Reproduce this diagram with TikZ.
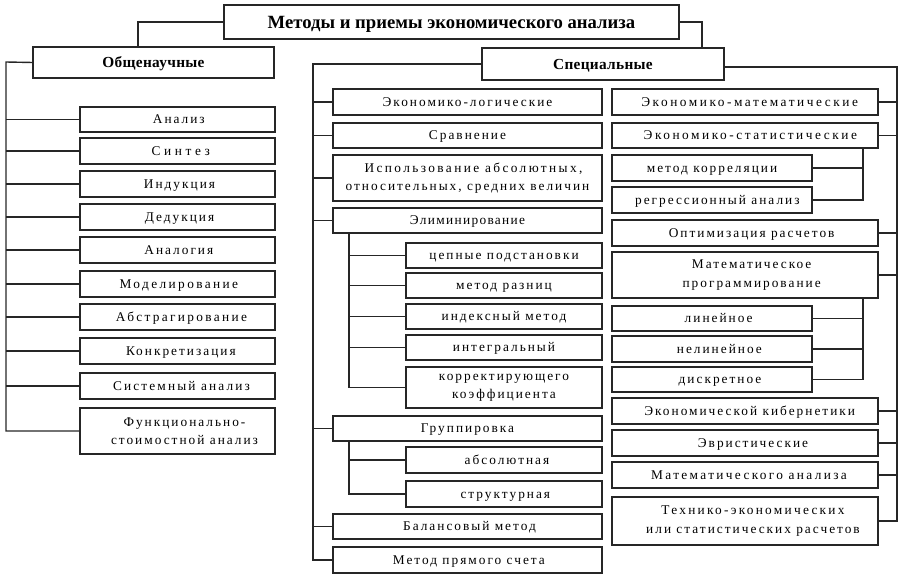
\documentclass[tikz,border=0pt]{standalone}
\usepackage{fontspec}
\setmainfont{Liberation Serif}[LetterSpace=15]
\newfontfamily\hdfont{Liberation Serif}[LetterSpace=2]
\newfontfamily\ttlfont{Liberation Serif}[LetterSpace=0]
\newcommand\sh[1]{\hspace*{#1pt}}
\newcommand\ls[1]{\addfontfeature{LetterSpace=#1}}
\begin{document}
\tikzset{
  box/.style={draw=black!85, line width=1.05pt, inner sep=0pt, outer sep=0pt,
    align=center, fill=white, font=\fontsize{10pt}{13.7pt}\selectfont},
  onebox/.style={box, text height=6.6pt, text depth=0pt},
  hdbox/.style={box, text height=7.6pt, text depth=0pt,
    font=\hdfont\bfseries\fontsize{11.5pt}{13pt}\selectfont},
  ttlbox/.style={box, text height=9.2pt, text depth=0pt,
    font=\ttlfont\bfseries\fontsize{14pt}{16pt}\selectfont},
  conn/.style={draw=black!85, line width=1.05pt},
}
\newcommand\mkbox[7][onebox]{%
  \node[#1, anchor=north west, minimum width={(#5-#3)*0.75pt},
    minimum height={(#6-#4)*0.75pt}] (#2) at (#3,#4) {#7};}
\begin{tikzpicture}[x=0.75pt,y=-0.75pt]
\useasboundingbox (0,0) rectangle (903,579);
% headers
\mkbox[ttlbox]{title}{224}{5}{679}{39}{Методы и приемы экономического анализа}
\mkbox[hdbox]{obsh}{33}{47}{274}{78}{Общенаучные}
\mkbox[hdbox]{spec}{482}{48}{724}{80}{Специальные}
% left column
\mkbox{a1}{80}{107}{275}{132}{\sh{2}Анализ}
\mkbox{a2}{80}{138}{275}{164}{\ls{27}\sh{5}Синтез}
\mkbox{a3}{80}{171}{275}{197}{\sh{3}Индукция}
\mkbox{a4}{80}{204}{275}{230}{\sh{3}Дедукция}
\mkbox{a5}{80}{237}{275}{263}{\sh{2}Аналогия}
\mkbox{a6}{80}{271}{275}{297}{\ls{18}\sh{2}Моделирование}
\mkbox{a7}{80}{304}{275}{330}{\ls{17.5}\sh{6}Абстрагирование}
\mkbox{a8}{80}{338}{275}{364}{\sh{5}Конкретизация}
\mkbox{a9}{80}{373}{275}{399}{\ls{16}\sh{6}Системный анализ}
\mkbox[box]{a10}{80}{408}{275}{454}{\sh{10.5}Функционально-\\\sh{10.5}стоимостной анализ}
% middle column
\mkbox{m1}{333}{89}{602}{115}{Экономико-логические}
\mkbox{m2}{333}{123}{602}{148}{Сравнение}
\mkbox[box]{m3}{333}{155}{602}{201}{\ls{18}\sh{9}Использование абсолютных,\\относительных, средних величин}
\mkbox{m4}{333}{208}{602}{233}{\ls{10}Элиминирование}
\mkbox{e1}{406}{243}{602}{268}{цепные подстановки}
\mkbox{e2}{406}{273}{602}{298}{метод разниц}
\mkbox{e3}{406}{304}{602}{329}{индексный метод}
\mkbox{e4}{406}{335}{602}{360}{интегральный}
\mkbox[box]{e5}{406}{367}{602}{408}{корректирующего\\коэффициента}
\mkbox{m5}{333}{416}{602}{441}{Группировка}
\mkbox{g1}{406}{447}{602}{473}{\sh{4.5}абсолютная}
\mkbox{g2}{406}{481}{602}{507}{\sh{2}структурная}
\mkbox{m6}{333}{514}{602}{539}{\sh{3}Балансовый метод}
\mkbox{m7}{333}{547}{602}{573}{\sh{2}Метод прямого счета}
% right column
\mkbox{r1}{612}{89}{878}{115}{\ls{19}\sh{7}Экономико-математические}
\mkbox{r2}{612}{123}{878}{148}{\ls{19}\sh{8}Экономико-статистические}
\mkbox{s1}{612}{155}{812}{181}{метод корреляции}
\mkbox{s2}{612}{187}{812}{213}{\sh{8}регрессионный анализ}
\mkbox{r3}{612}{220}{878}{246}{\sh{10}Оптимизация расчетов}
\mkbox[box]{r4}{612}{252}{878}{298}{\sh{10}Математическое\\\sh{10}программирование}
\mkbox{p1}{612}{306}{812}{331}{\sh{10}линейное}
\mkbox{p2}{612}{336}{812}{362}{\sh{11}нелинейное}
\mkbox{p3}{612}{367}{812}{392}{\sh{12}дискретное}
\mkbox{r5}{612}{398}{878}{424}{\sh{7}Экономической кибернетики}
\mkbox{r6}{612}{430}{878}{456}{\sh{12}Эвристические}
\mkbox{r7}{612}{462}{878}{488}{\ls{17.5}\sh{6}Математического анализа}
\mkbox[box]{r8}{612}{497}{878}{545}{\ls{17}\sh{12}Технико-экономических\\\sh{12}или статистических расчетов}
% title connectors
\coordinate (tL) at (138,47);
\coordinate (tR) at (702,48);
\draw[conn] (title.west) -| (tL);
\draw[conn] (title.east) -| (tR);
% left bus
\coordinate (lbus) at (6,62);
\draw[conn] (obsh.west) -- (lbus) -- (lbus |- a10.west) -- (a10.west);
\foreach \n in {a1,a2,a3,a4,a5,a6,a7,a8,a9}
  \draw[conn] (lbus |- \n.west) -- (\n.west);
% middle bus
\coordinate (mbus) at (313,64);
\draw[conn] (spec.west) -- (mbus) -- (mbus |- m7.west) -- (m7.west);
\foreach \n in {m1,m2,m3,m4,m5,m6}
  \draw[conn] (mbus |- \n.west) -- (\n.west);
% elimination sub-bus
\coordinate (ebus) at (349,233);
\draw[conn] (ebus) -- (ebus |- e5.west) -- (e5.west);
\foreach \n in {e1,e2,e3,e4}
  \draw[conn] (ebus |- \n.west) -- (\n.west);
% grouping sub-bus
\coordinate (gbus) at (349,441);
\draw[conn] (gbus) -- (gbus |- g2.west) -- (g2.west);
\draw[conn] (gbus |- g1.west) -- (g1.west);
% right bus
\coordinate (rbus) at (897,67);
\draw[conn] (spec.east |- rbus) -- (rbus) -- (rbus |- r8.east) -- (r8.east);
\foreach \n in {r1,r2,r3,r4,r5,r6,r7}
  \draw[conn] (rbus |- \n.east) -- (\n.east);
% statistics sub-bus
\coordinate (sbus) at (863,148);
\draw[conn] (sbus) -- (sbus |- s2.east) -- (s2.east);
\draw[conn] (sbus |- s1.east) -- (s1.east);
% programming sub-bus
\coordinate (pbus) at (863,298);
\draw[conn] (pbus) -- (pbus |- p3.east) -- (p3.east);
\foreach \n in {p1,p2}
  \draw[conn] (pbus |- \n.east) -- (\n.east);
\end{tikzpicture}
\end{document}
